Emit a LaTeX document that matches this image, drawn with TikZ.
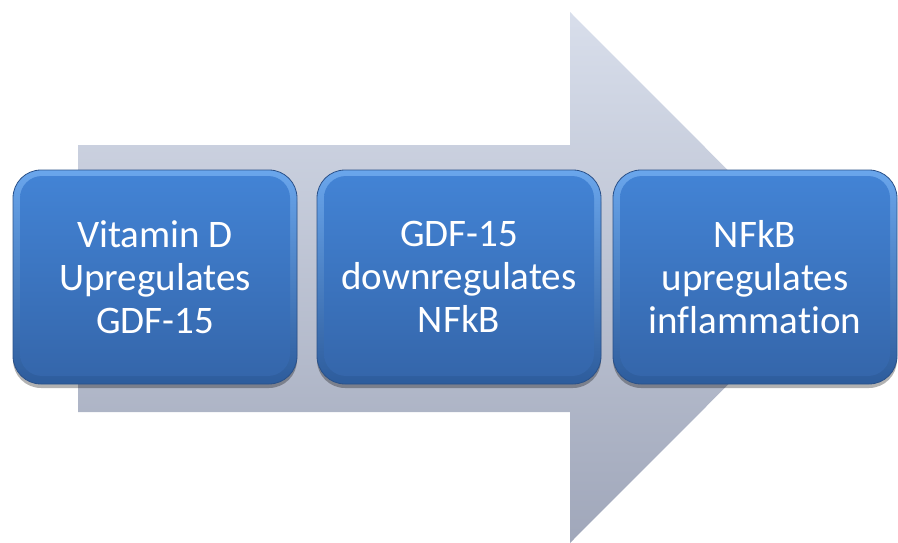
\documentclass[tikz,border=0pt]{standalone}
\usepackage{fontspec}
\setmainfont{Carlito}[Ligatures=CommonOff]
\usetikzlibrary{shadows}
\definecolor{arrowtop}{HTML}{D8DEEB}
\definecolor{arrowbot}{HTML}{A0A7BA}
\definecolor{rimtop}{HTML}{6AA6EC}
\definecolor{rimbot}{HTML}{2D5C9C}
\definecolor{facetop}{HTML}{4384D6}
\definecolor{facebot}{HTML}{3465A9}
\definecolor{edge}{HTML}{2A5189}
\tikzset{
  stepbox/.style={rounded corners=28pt, minimum width=284pt, minimum height=214pt,
    align=center, text=white, font=\fontsize{39}{43}\selectfont,
    top color=rimtop, bottom color=rimbot, draw=edge, line width=0.8pt,
    drop shadow={shadow xshift=0pt, shadow yshift=-4pt, opacity=0.3, fill=black},
    path picture={\shade[top color=facetop, bottom color=facebot, rounded corners=22pt]
      ([shift={(7pt,-6pt)}]path picture bounding box.north west) rectangle
      ([shift={(-7pt,8pt)}]path picture bounding box.south east);}},
}
\begin{document}
\begin{tikzpicture}[x=1pt,y=-1pt]
\useasboundingbox (0,0) rectangle (898,543);
\shade[top color=arrowtop, bottom color=arrowbot]
  (78,145) -- (570,145) -- (570,12) -- (835,277.5) -- (570,543) -- (570,412) -- (78,412) -- cycle;
\node[stepbox] (b1) at (155,277) {Vitamin D\\Upregulates\\GDF-15};
\node[stepbox] (b2) at (459,277) {GDF-15\\downregulates\\NFkB};
\node[stepbox] (b3) at (755,277) {NFkB\\upregulates\\inflammation};
\end{tikzpicture}
\end{document}
